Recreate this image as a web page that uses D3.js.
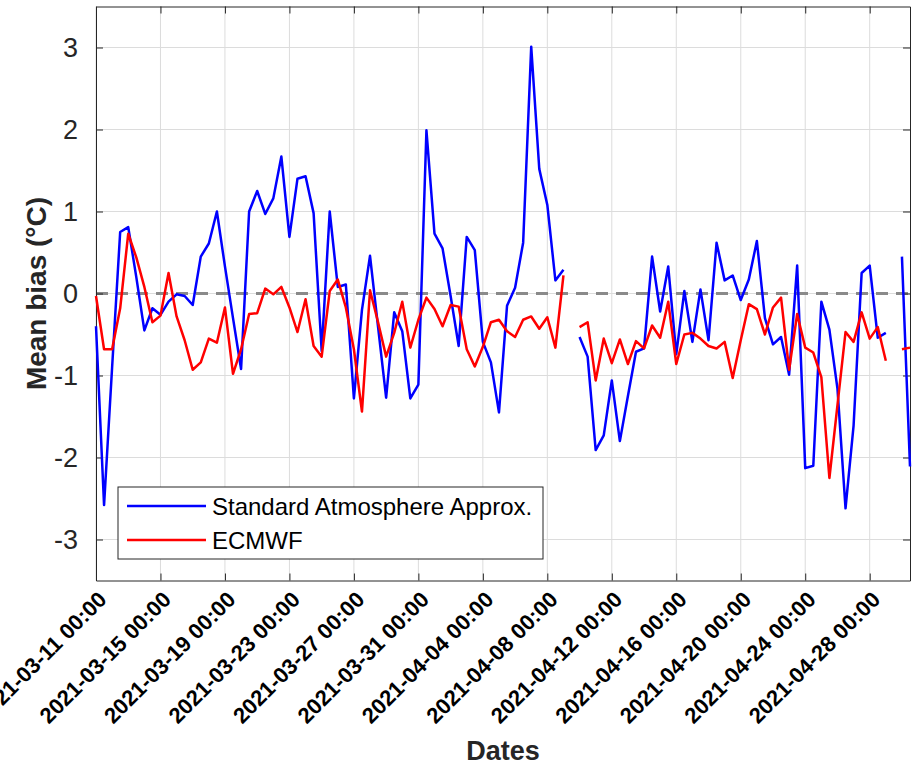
<!DOCTYPE html>
<html>
<head>
<meta charset="utf-8">
<script src="https://cdn.jsdelivr.net/npm/d3@7/dist/d3.min.js"></script>
<style>
  body { margin: 0; background: #fff; }
  svg { font-family: "Liberation Sans", Arial, sans-serif; }
</style>
</head>
<body>
<div class="chart"></div>
<script>
// samples every 12 hours starting 2021-03-11 00:00 (null = no data)
const startDate = '2021-03-11T00:00:00Z';
const stepHours = 12;

const standardAtmosphere = [
  -0.40, -2.58, -0.90, 0.75, 0.81, 0.20, -0.45, -0.18, -0.26, -0.10,
  -0.01, -0.03, -0.14, 0.45, 0.61, 1.00, 0.33, -0.30, -0.92, 1.00,
  1.25, 0.97, 1.16, 1.67, 0.69, 1.40, 1.43, 0.98, -0.70, 1.00,
  0.08, 0.11, -1.28, -0.20, 0.46, -0.41, -1.27, -0.23, -0.46, -1.28,
  -1.11, 1.99, 0.73, 0.55, -0.03, -0.64, 0.69, 0.53, -0.59, -0.84,
  -1.45, -0.15, 0.07, 0.62, 3.01, 1.52, 1.08, 0.16, 0.29, null,
  -0.53, -0.77, -1.91, -1.73, -1.06, -1.80, -1.25, -0.71, -0.67, 0.45,
  -0.22, 0.33, -0.74, 0.03, -0.59, 0.05, -0.57, 0.62, 0.16, 0.22,
  -0.08, 0.17, 0.64, -0.30, -0.62, -0.53, -0.99, 0.34, -2.13, -2.10,
  -0.10, -0.44, -1.16, -2.62, -1.61, 0.25, 0.34, -0.54, -0.48, null,
  0.45, -2.11
];

const ecmwf = [
  -0.03, -0.68, -0.68, -0.18, 0.73, 0.44, 0.08, -0.35, -0.27, 0.25,
  -0.28, -0.57, -0.93, -0.84, -0.55, -0.60, -0.17, -0.98, -0.68, -0.25,
  -0.24, 0.06, -0.01, 0.08, -0.17, -0.47, -0.07, -0.64, -0.77, 0.03,
  0.17, -0.17, -0.68, -1.44, 0.04, -0.35, -0.77, -0.48, -0.10, -0.66,
  -0.32, -0.05, -0.19, -0.40, -0.14, -0.16, -0.68, -0.89, -0.65, -0.35,
  -0.32, -0.46, -0.53, -0.32, -0.28, -0.43, -0.29, -0.66, 0.22, null,
  -0.41, -0.35, -1.06, -0.55, -0.85, -0.56, -0.86, -0.58, -0.67, -0.39,
  -0.54, -0.10, -0.86, -0.50, -0.48, -0.55, -0.64, -0.67, -0.59, -1.03,
  -0.57, -0.13, -0.19, -0.50, -0.17, -0.05, -0.93, -0.25, -0.66, -0.72,
  -1.02, -2.25, -1.36, -0.47, -0.59, -0.23, -0.55, -0.41, -0.82, null,
  -0.68, -0.66
];

const xTickLabels = [
  '2021-03-11 00:00', '2021-03-15 00:00', '2021-03-19 00:00', '2021-03-23 00:00',
  '2021-03-27 00:00', '2021-03-31 00:00', '2021-04-04 00:00', '2021-04-08 00:00',
  '2021-04-12 00:00', '2021-04-16 00:00', '2021-04-20 00:00', '2021-04-24 00:00',
  '2021-04-28 00:00'
];
const yTicks = [-3, -2, -1, 0, 1, 2, 3];

const seriesNames = ['Standard Atmosphere Approx.', 'ECMWF'];
const seriesColors = ['#0000ff', '#ff0000'];

const W = 922, H = 765;
const margin = {top: 6.5, right: 12, bottom: 184.5, left: 96};
const width = W - margin.left - margin.right;
const height = H - margin.top - margin.bottom;
const axisColor = '#262626';

const parseTick = d3.utcParse('%Y-%m-%d %H:%M');
const t0 = new Date(startDate);
const toPoints = arr => arr.map((v, i) => ({date: d3.utcHour.offset(t0, i * stepHours), v}));
const data = [toPoints(standardAtmosphere), toPoints(ecmwf)];

const svg = d3.select('.chart')
  .append('svg')
  .attr('width', W)
  .attr('height', H)
  .append('g')
  .attr('transform', `translate(${margin.left}, ${margin.top})`);

const xScale = d3.scaleUtc()
  .domain([t0, new Date('2021-04-30T12:00:00Z')])
  .range([0, width]);
const yScale = d3.scaleLinear()
  .domain([-3.5, 3.5])
  .range([height, 0]);

const tickDates = xTickLabels.map(parseTick);

// grid
svg.append('g')
  .selectAll('line.vgrid')
  .data(tickDates)
  .enter().append('line')
  .attr('x1', d => xScale(d)).attr('x2', d => xScale(d))
  .attr('y1', 0).attr('y2', height)
  .style('stroke', '#dcdcdc').style('stroke-width', 1);
svg.append('g')
  .selectAll('line.hgrid')
  .data(yTicks)
  .enter().append('line')
  .attr('x1', 0).attr('x2', width)
  .attr('y1', d => yScale(d)).attr('y2', d => yScale(d))
  .style('stroke', '#dcdcdc').style('stroke-width', 1);

// zero reference
svg.append('line')
  .attr('x1', 0).attr('x2', width)
  .attr('y1', yScale(0)).attr('y2', yScale(0))
  .style('stroke', '#8a8a8a')
  .style('stroke-width', 3)
  .style('stroke-dasharray', '12,8');

// axes (box with inward ticks on all sides)
const fmt = d3.utcFormat('%Y-%m-%d %H:%M');
const xAxis = svg.append('g')
  .attr('transform', `translate(0, ${height})`)
  .call(d3.axisBottom(xScale).tickValues(tickDates).tickFormat(fmt).tickSizeInner(-7).tickSizeOuter(0));
xAxis.selectAll('text')
  .style('font-size', '22px')
  .style('font-weight', 'bold')
  .style('fill', '#000')
  .attr('text-anchor', 'end')
  .attr('y', 0).attr('x', 0).attr('dy', '0.35em')
  .attr('transform', 'translate(6, 15) rotate(-45)');

svg.append('g')
  .call(d3.axisTop(xScale).tickValues(tickDates).tickFormat('').tickSizeInner(-7).tickSizeOuter(0));

const yAxis = svg.append('g')
  .call(d3.axisLeft(yScale).tickValues(yTicks).tickFormat(d => String(d)).tickSizeInner(-7).tickSizeOuter(0).tickPadding(18));
yAxis.selectAll('text')
  .style('font-size', '27px')
  .style('fill', axisColor);

svg.append('g')
  .attr('transform', `translate(${width}, 0)`)
  .call(d3.axisRight(yScale).tickValues(yTicks).tickFormat('').tickSizeInner(-7).tickSizeOuter(0));

svg.selectAll('.domain').style('stroke', axisColor);
svg.selectAll('.tick line').style('stroke', axisColor);

// series
const line = d3.line()
  .defined(d => d.v !== null)
  .x(d => xScale(d.date))
  .y(d => yScale(d.v));

svg.selectAll('.series')
  .data(data)
  .enter()
  .append('path')
  .attr('class', 'series')
  .attr('d', d => line(d))
  .style('stroke', (d, i) => seriesColors[i])
  .style('stroke-width', 2.5)
  .style('stroke-linejoin', 'round')
  .style('fill', 'none');

// legend
const legend = svg.append('g')
  .attr('transform', `translate(${118 - margin.left}, ${487 - margin.top})`);
legend.append('rect')
  .attr('width', 425).attr('height', 72)
  .style('fill', '#fff')
  .style('stroke', axisColor)
  .style('stroke-width', 1);
seriesNames.forEach((name, i) => {
  const y = 19 + i * 34;
  legend.append('line')
    .attr('x1', 9).attr('x2', 88)
    .attr('y1', y).attr('y2', y)
    .style('stroke', seriesColors[i])
    .style('stroke-width', 2.5);
  legend.append('text')
    .attr('x', 94).attr('y', y)
    .attr('dy', '0.36em')
    .style('font-size', '24px')
    .style('fill', '#000')
    .text(name);
});

// axis titles
svg.append('text')
  .attr('x', width / 2)
  .attr('y', 753)
  .attr('text-anchor', 'middle')
  .style('font-size', '27px')
  .style('font-weight', 'bold')
  .style('fill', axisColor)
  .text('Dates');

svg.append('text')
  .attr('transform', `translate(${46 - margin.left}, ${height / 2}) rotate(-90)`)
  .attr('text-anchor', 'middle')
  .style('font-size', '28px')
  .style('font-weight', 'bold')
  .style('fill', axisColor)
  .text('Mean bias (°C)');
</script>
</body>
</html>
